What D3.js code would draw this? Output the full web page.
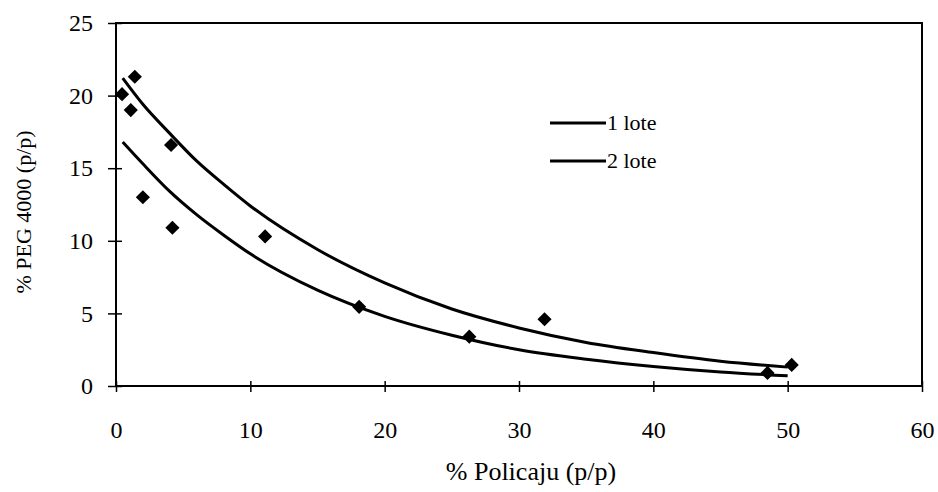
<!DOCTYPE html>
<html>
<head>
<meta charset="utf-8">
<script src="https://cdn.jsdelivr.net/npm/d3@7"></script>
<style>
  body { margin: 0; background: #fff; }
  text { font-family: "Liberation Serif", "DejaVu Serif", serif; fill: #000; }
</style>
</head>
<body>
<div id="chart"></div>
<script>
var w = 938, h = 492;

// measured points (% Policaju, % PEG 4000)
var pointsX = [0.45, 1.4, 1.1, 4.1, 2.0, 4.2, 11.1, 18.1, 26.3, 31.9, 48.5, 50.3];
var pointsY = [20.1, 21.3, 19.0, 16.6, 13.0, 10.9, 10.3, 5.45, 3.4, 4.6, 0.9, 1.45];

// trend lines
var curveX = [0.5, 2, 4, 6, 8, 10, 15, 20, 25, 30, 35, 40, 45, 50];
var lote1 = [21.2, 19.4, 17.4, 15.5, 13.9, 12.4, 9.4, 7.1, 5.3, 4.0, 3.0, 2.3, 1.7, 1.3];
var lote2 = [16.8, 15.3, 13.4, 11.8, 10.4, 9.1, 6.6, 4.8, 3.5, 2.5, 1.85, 1.35, 0.97, 0.7];
var legendNames = ["1 lote", "2 lote"];

var xTicks = [0, 10, 20, 30, 40, 50, 60];
var yTicks = [0, 5, 10, 15, 20, 25];

// plot box (don't use "top" as a global name, it clashes with window.top)
var pL = 116, pR = 922, pT = 23, pB = 386;

var x = d3.scaleLinear().domain([0, 60]).range([pL, pR]);
var y = d3.scaleLinear().domain([0, 25]).range([pB, pT]);

var svg = d3.select("#chart").append("svg")
  .attr("width", w).attr("height", h);

// frame
svg.append("rect")
  .attr("x", pL).attr("y", pT)
  .attr("width", pR - pL).attr("height", pB - pT)
  .attr("fill", "none").attr("stroke", "#000").attr("stroke-width", 2);

// axes with cross ticks
var xAxis = svg.append("g")
  .attr("transform", "translate(0," + pB + ")")
  .call(d3.axisBottom(x).tickValues(xTicks).tickSizeInner(6).tickSizeOuter(0).tickPadding(29));
xAxis.select(".domain").remove();
xAxis.selectAll(".tick line").attr("y1", -5).attr("stroke-width", 1.5);
xAxis.selectAll(".tick text")
  .style("font-family", '"Liberation Serif", serif').style("font-size", "24px");

var yAxis = svg.append("g")
  .attr("transform", "translate(" + pL + ",0)")
  .call(d3.axisLeft(y).tickValues(yTicks).tickSizeInner(8).tickSizeOuter(0).tickPadding(15));
yAxis.select(".domain").remove();
yAxis.selectAll(".tick line").attr("x1", 6).attr("x2", -8).attr("stroke-width", 1.5);
yAxis.selectAll(".tick text")
  .style("font-family", '"Liberation Serif", serif').style("font-size", "24px");

// axis titles
svg.append("text")
  .attr("x", 531).attr("y", 480)
  .attr("text-anchor", "middle").style("font-size", "26px")
  .text("% Policaju (p/p)");

svg.append("text")
  .attr("transform", "translate(31," + 212 + ") rotate(-90)")
  .attr("text-anchor", "middle").style("font-size", "22px")
  .text("% PEG 4000 (p/p)");

// trend lines
var line = d3.line()
  .x(function(d) { return x(d[0]); })
  .y(function(d) { return y(d[1]); })
  .curve(d3.curveMonotoneX);

[lote1, lote2].forEach(function(s) {
  svg.append("path")
    .datum(d3.zip(curveX, s))
    .attr("d", line)
    .attr("fill", "none").attr("stroke", "#000").attr("stroke-width", 3);
});

// diamonds
var diamond = d3.symbol().type(d3.symbolSquare).size(100);
svg.selectAll("path.pt")
  .data(d3.zip(pointsX, pointsY)).enter()
  .append("path").attr("class", "pt")
  .attr("d", diamond)
  .attr("transform", function(d) {
    return "translate(" + x(d[0]) + "," + y(d[1]) + ") rotate(45)";
  })
  .attr("fill", "#000");

// legend
var legend = svg.append("g");
legendNames.forEach(function(name, i) {
  var ly = 123 + i * 38;
  legend.append("line")
    .attr("x1", 550).attr("x2", 606).attr("y1", ly).attr("y2", ly)
    .attr("stroke", "#000").attr("stroke-width", 3);
  legend.append("text")
    .attr("x", 607).attr("y", ly + 7)
    .style("font-size", "22px")
    .text(name);
});
</script>
</body>
</html>
